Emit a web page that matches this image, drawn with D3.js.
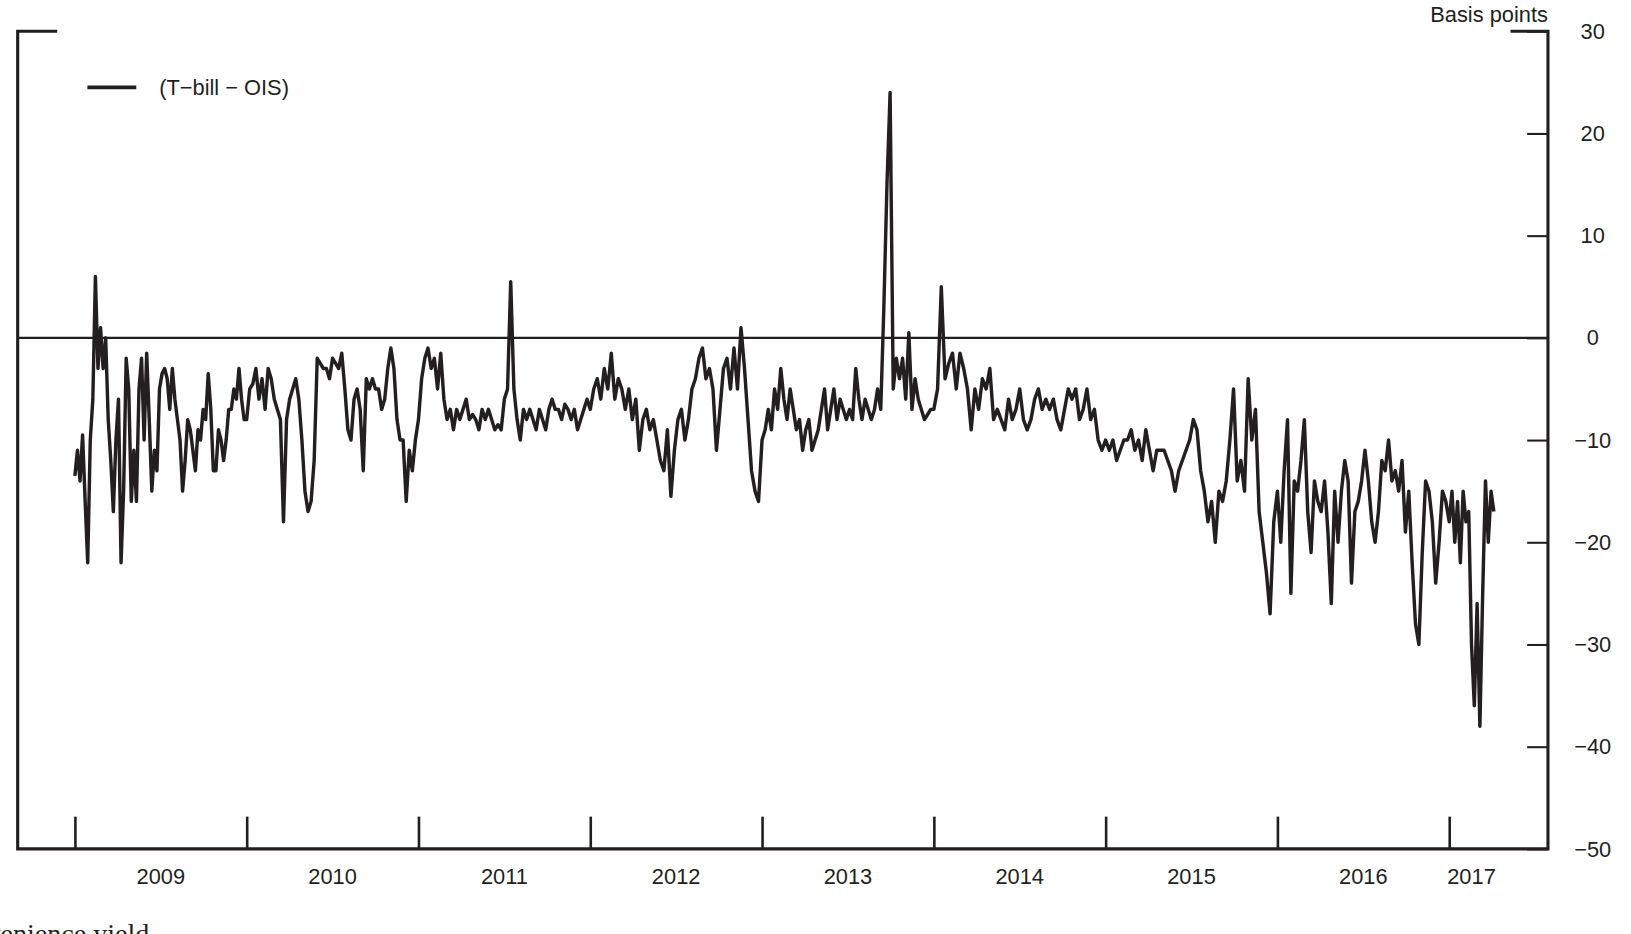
<!DOCTYPE html>
<html><head><meta charset="utf-8">
<script src="https://cdn.jsdelivr.net/npm/d3@7"></script>
<style>body{margin:0;background:#fff}svg{display:block}text{font-family:"Liberation Sans",Arial,sans-serif;fill:#231f20}</style>
</head><body><svg id="c" width="1631" height="934"></svg>
<script>
const years=[2009,2010,2011,2012,2013,2014,2015,2016,2017];
const yTicks=[30,20,10,0,-10,-20,-30,-40,-50];
const v2009=[-13.5,-11,-14,-9.5,-16,-22,-10,-6,6,-3,1,-3,0,-8,-12,-17,-10,-6,-22,-15,-2,-5,-16,-11,-16,-5,-2,-10,-1.5,-8,-15,-11,-13,-5,-3.5,-3,-4,-7,-3,-6,-8,-10,-15,-12,-8,-9,-11,-13,-9,-10,-7,-8,-3.5,-7,-13,-13,-9,-10,-12,-10,-7,-7,-5,-6,-3,-6,-8];
const v2010=[-8,-5,-4.5,-3,-6,-4,-7,-3,-4,-6,-7,-8,-18,-8,-6,-5,-4,-6,-10,-15,-17,-16,-12,-2,-2.5,-3,-3,-4,-2,-2.5,-3,-1.5,-5,-9,-10,-6,-5,-7,-13,-4,-5,-4,-5,-5,-7,-6,-3,-1,-3,-8,-10,-10,-16,-11,-13,-10];
const v2011=[-8,-4,-2,-1,-3,-2,-5,-1.5,-6,-8,-7,-9,-7,-8,-7,-6,-8,-7.5,-8,-9,-7,-8,-7,-8,-9,-8.5,-9,-6,-5,5.5,-5,-8,-10,-7,-8,-7,-8,-9,-7,-8,-9,-7,-6,-7,-7,-8,-6.5,-7,-8,-7,-9,-8,-7,-6];
const v2012=[-7,-5,-4,-6,-3,-5,-1.5,-6,-4,-5,-7,-5,-8,-6,-11,-8,-7,-9,-8,-10,-12,-13,-9,-15.5,-11,-8,-7,-10,-8,-5,-4,-2,-1,-4,-3,-5,-11,-7,-3,-2,-5,-1,-5,1,-3,-8,-13,-15,-16];
const v2013=[-10,-9,-7,-9,-5,-7,-3,-6,-8,-5,-7,-9,-8,-11,-9,-8,-11,-10,-9,-7,-5,-9,-7,-5,-8,-6,-7,-8,-7,-8,-3,-6,-8,-6,-7,-8,-7,-5,-7,3,15,24,-5,-2,-4,-2,-6,0.5,-7,-4,-6,-7,-8,-7.5,-7];
const v2014=[-7,-5,5,-4,-2.5,-1.5,-5,-1.5,-3,-5,-9,-5,-7,-4,-5,-3,-8,-7,-8,-9,-6,-8,-7,-5,-8,-9,-8,-6,-5,-7,-6,-7,-6,-8,-9,-7,-5,-6,-5,-8,-7,-5,-8,-7,-10,-11];
const v2015=[-10,-11,-10,-12,-11,-10,-10,-9,-11,-10,-12,-9,-11,-13,-11,-11,-11,-12,-13,-15,-13,-12,-11,-10,-8,-9,-13,-15,-18,-16,-20,-15,-16,-14,-10,-5,-14,-12,-15,-4,-10,-7,-17,-20,-23,-27,-18];
const v2016=[-15,-20,-13,-8,-25,-14,-15,-12,-8,-17,-21,-14,-16,-17,-14,-19,-26,-15,-20,-15,-12,-14,-24,-17,-16,-14,-11,-14,-18,-20,-17,-12,-13,-10,-14,-13,-15,-12,-19,-15,-22,-28,-30,-21,-14,-15,-18,-24,-20,-15,-16];
const v2017=[-18,-15,-20,-16,-22,-15,-18,-17,-30,-36,-26,-38,-25,-14,-20,-15,-17];
const seriesByYear=[v2009,v2010,v2011,v2012,v2013,v2014,v2015,v2016];
const span2017=0.26;

const data=[];
seriesByYear.forEach((arr,k)=>arr.forEach((v,i)=>data.push({t:years[k]+i/arr.length,v})));
v2017.forEach((v,i)=>data.push({t:2017+span2017*i/(v2017.length-1),v}));

const svg=d3.select("#c").append("g").attr("transform","scale(1.0403)");
const L=17,R=1488,T=30,B=816;
const x=d3.scaleLinear().domain([2008.667,2017.575]).range([L,R]);
const y=d3.scaleLinear().domain([-50,30]).range([B,T]);
const ink="#231f20";

svg.append("line").attr("x1",L).attr("x2",R).attr("y1",y(0)).attr("y2",y(0)).attr("stroke",ink).attr("stroke-width",2);
const fr=svg.append("g").attr("stroke",ink).attr("stroke-width",3).attr("fill","none");
fr.append("path").attr("d",`M${L+38},${T}H${L}V${B}H${R}V${T}H${R-36}`);
const ya=svg.append("g").attr("transform",`translate(${R},0)`).call(d3.axisLeft(y).tickValues(yTicks).tickSize(20).tickFormat(""));
ya.select(".domain").remove();ya.selectAll("line").attr("stroke",ink).attr("stroke-width",2);
svg.append("g").selectAll("text").data(yTicks).join("text").attr("x",1531).attr("y",d=>y(d)).attr("dy","0.35em")
 .attr("text-anchor","middle").attr("font-size",21).text(d=>d<0?"\u2212"+(-d):d);
svg.append("text").attr("x",R).attr("y",21).attr("text-anchor","end").attr("font-size",21).text("Basis points");
const xa=svg.append("g").attr("transform",`translate(0,${B})`).call(d3.axisTop(x).tickValues(years).tickSize(31).tickFormat(""));
xa.select(".domain").remove();xa.selectAll("line").attr("stroke",ink).attr("stroke-width",2.5);
const labs=years.map((yr,i)=>({yr,c:yr<2017?yr+0.5:2017+span2017/2}));
svg.append("g").selectAll("text").data(labs).join("text").attr("x",d=>x(d.c)).attr("y",850)
 .attr("text-anchor","middle").attr("font-size",21).text(d=>d.yr);
svg.append("path").datum(data).attr("fill","none").attr("stroke",ink).attr("stroke-width",3.3).attr("stroke-linejoin","round")
 .attr("d",d3.line().x(d=>x(d.t)).y(d=>y(d.v)));
svg.append("line").attr("x1",84).attr("x2",131).attr("y1",84).attr("y2",84).attr("stroke",ink).attr("stroke-width",3.5);
svg.append("text").attr("x",153).attr("y",84).attr("dy","0.35em").attr("font-size",21).text("(T\u2212bill \u2212 OIS)");
svg.append("text").attr("x",-58).attr("y",906).attr("font-size",27).style("font-family","'Liberation Serif',serif").text("Convenience yield");
</script></body></html>
